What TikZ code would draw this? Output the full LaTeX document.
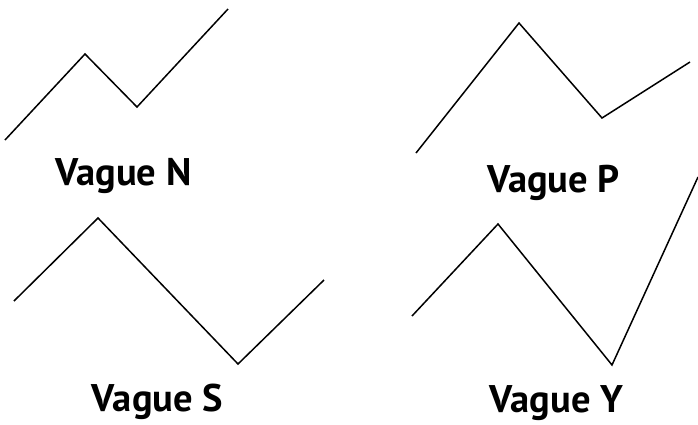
\documentclass[tikz,border=0pt]{standalone}
\usepackage{fontspec}
\setmainfont{PT Sans}
\begin{document}
\begin{tikzpicture}[x=1pt,y=-1pt]
\useasboundingbox (0,0) rectangle (698,424);
\def\wv#1{\draw [line width=1.5pt, line join=miter] #1;}
\def\lbl#1#2#3#4{
\node [anchor=base, inner sep=0pt, font=\bfseries\fontsize{38.5}{38.5}\selectfont] (#1) at (#2,#3) {#4};
}
\wv{(5,140) -- (85,54) -- (137,107) -- (228,9)}
\wv{(416,153) -- (519,23) -- (602,118) -- (690,62)}
\wv{(14,301) -- (98,218) -- (238,364) -- (324,280)}
\wv{(412,316) -- (498,224) -- (612,365) -- (698,177)}
\lbl{vn}{123.5}{185}{Vague N}
\lbl{vp}{553.5}{192}{Vague P}
\lbl{vs}{157.5}{411}{Vague S}
\lbl{vy}{556.5}{412}{Vague Y}
\end{tikzpicture}
\end{document}
